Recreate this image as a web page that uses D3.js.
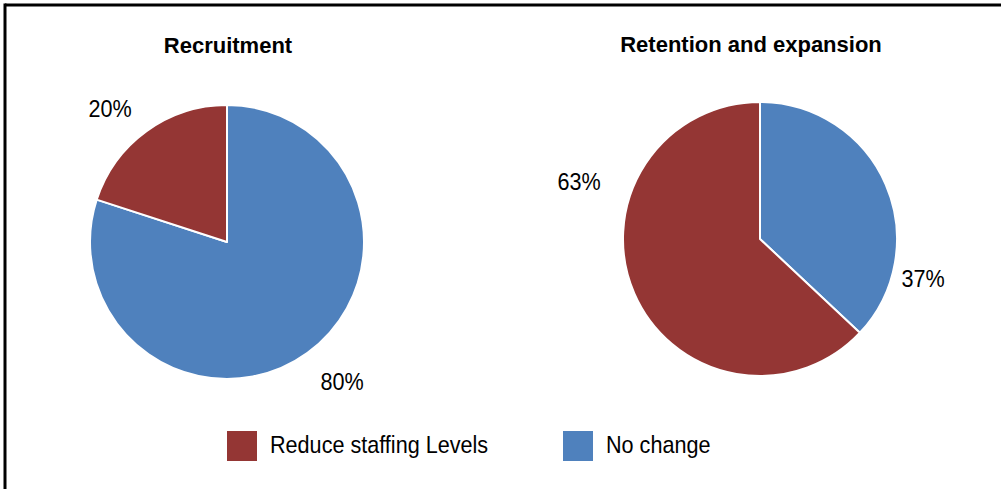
<!DOCTYPE html>
<html>
<head>
<meta charset="utf-8">
<script src="https://cdn.jsdelivr.net/npm/d3@7"></script>
<style>
  html, body { margin: 0; padding: 0; background: #fff; }
  svg { display: block; font-family: "Liberation Sans", Arial, sans-serif; }
</style>
</head>
<body>
<svg id="chart" width="1001" height="489"></svg>
<script>
// Survey responses: share of organisations by planned staffing action
const categories = ["Reduce staffing Levels", "No change"];
const chartTitles = ["Recruitment", "Retention and expansion"];
const recruitmentValues = [20, 80];
const retentionValues = [63, 37];
const colors = ["#943634", "#4F81BD"];

const svg = d3.select("#chart");
const W = 1001, H = 489;

// frame: top and left rules
svg.append("line").attr("x1", 5).attr("y1", 5).attr("x2", W).attr("y2", 5)
  .attr("stroke", "#000").attr("stroke-width", 3);
svg.append("line").attr("x1", 5).attr("y1", 3.5).attr("x2", 5).attr("y2", H)
  .attr("stroke", "#000").attr("stroke-width", 3);

const radius = 137;
const color = d3.scaleOrdinal().domain(categories).range(colors);

// slightly condensed body text
const bodySize = 24, squeeze = 0.9;
function placeText(sel, x, y) {
  return sel.attr("transform", `translate(${x},${y}) scale(${squeeze},1)`)
    .attr("font-size", bodySize);
}

// panels: pie centre, title centre and label placement (offset from centre, px)
const panels = [
  { title: chartTitles[0], values: recruitmentValues, cx: 227, cy: 242, titleX: 228, titleY: 53,
    labelOffsets: [[-117, -125], [115, 148]] },
  { title: chartTitles[1], values: retentionValues, cx: 760, cy: 239, titleX: 751, titleY: 52,
    labelOffsets: [[-181, -49], [163, 48]] }
];

// slices run clockwise from 12 o'clock: "No change" first, then "Reduce"
const pie = d3.pie().sort(null).value(d => d.value);
const arc = d3.arc().innerRadius(0).outerRadius(radius);

panels.forEach(p => {
  const data = categories.map((c, i) => ({ category: c, value: p.values[i], idx: i }));
  const drawOrder = [data[1], data[0]];
  const g = svg.append("g").attr("transform", `translate(${p.cx},${p.cy})`);

  g.selectAll("path")
    .data(pie(drawOrder))
    .join("path")
    .attr("d", arc)
    .attr("fill", d => color(d.data.category))
    .attr("stroke", "#fff")
    .attr("stroke-width", 2)
    .attr("stroke-linejoin", "round");

  data.forEach(d => {
    placeText(g.append("text"), p.labelOffsets[d.idx][0], p.labelOffsets[d.idx][1])
      .attr("text-anchor", "middle")
      .attr("fill", "#000")
      .text(d3.format(".0f")(d.value) + "%");
  });

  svg.append("text")
    .attr("x", p.titleX).attr("y", p.titleY)
    .attr("text-anchor", "middle")
    .attr("font-size", 22)
    .attr("font-weight", "bold")
    .attr("fill", "#000")
    .text(p.title);
});

// legend
const legendItems = [
  { category: categories[0], x: 227 },
  { category: categories[1], x: 563 }
];
const lg = svg.append("g");
legendItems.forEach(it => {
  lg.append("rect").attr("x", it.x).attr("y", 431).attr("width", 30).attr("height", 30)
    .attr("fill", color(it.category));
  placeText(lg.append("text"), it.x + 43, 453)
    .attr("fill", "#000").text(it.category);
});
</script>
</body>
</html>
